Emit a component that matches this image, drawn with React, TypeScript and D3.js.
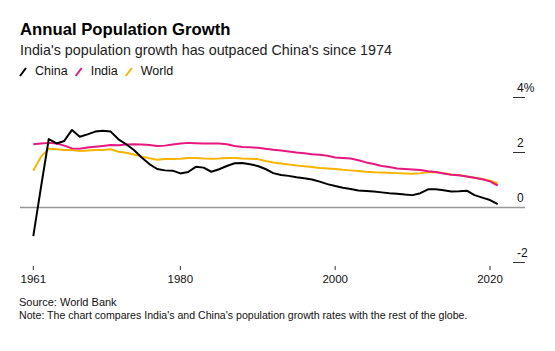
import React, { useEffect, useRef } from "react";
import * as d3 from "d3";

// annual population growth, %, 1961-2021
const years = d3.range(1961, 2022);

const china = [
  -1.04, 0.75, 2.49, 2.33, 2.42, 2.82, 2.57, 2.66, 2.76, 2.79,
  2.76, 2.48, 2.3, 2.09, 1.82, 1.58, 1.4, 1.35, 1.34, 1.24,
  1.29, 1.48, 1.45, 1.3, 1.39, 1.51, 1.61, 1.62, 1.57, 1.51,
  1.4, 1.25, 1.18, 1.15, 1.1, 1.06, 1.02, 0.94, 0.85, 0.78,
  0.72, 0.67, 0.62, 0.6, 0.58, 0.55, 0.52, 0.5, 0.47, 0.45,
  0.52, 0.66, 0.66, 0.63, 0.58, 0.59, 0.61, 0.45, 0.36, 0.27,
  0.12
];

const india = [
  2.3, 2.33, 2.35, 2.33, 2.25, 2.15, 2.14, 2.18, 2.21, 2.24,
  2.27, 2.26, 2.29, 2.3, 2.29, 2.27, 2.24, 2.25, 2.29, 2.33,
  2.35, 2.34, 2.33, 2.33, 2.33, 2.3, 2.24, 2.2, 2.19, 2.17,
  2.14, 2.1, 2.07, 2.04, 2.0, 1.97, 1.94, 1.92, 1.88, 1.82,
  1.8, 1.78, 1.72, 1.64, 1.58, 1.51, 1.47, 1.42, 1.4, 1.38,
  1.36, 1.32, 1.29, 1.24, 1.19, 1.17, 1.13, 1.08, 1.03, 0.95,
  0.8
];

const world = [
  1.34, 1.85, 2.14, 2.12, 2.09, 2.09, 2.05, 2.07, 2.09, 2.09,
  2.12, 2.03, 1.99, 1.93, 1.85, 1.79, 1.74, 1.76, 1.76, 1.77,
  1.8, 1.8, 1.78, 1.77, 1.78, 1.8, 1.8, 1.78, 1.77, 1.76,
  1.69, 1.64, 1.6, 1.56, 1.53, 1.5, 1.47, 1.44, 1.42, 1.4,
  1.37, 1.35, 1.33, 1.3, 1.28, 1.27, 1.26, 1.25, 1.24, 1.23,
  1.25, 1.28, 1.28, 1.25, 1.2, 1.17, 1.13, 1.08, 1.04, 0.97,
  0.88
];

const xTicks = [1961, 1980, 2000, 2020];
const yTicks = [4, 2, 0, -2];

const series = [
  { name: "World", values: world, color: "#f7b500" },
  { name: "India", values: india, color: "#e8177f" },
  { name: "China", values: china, color: "#000000" },
];
const legendOrder = ["China", "India", "World"];

const App = () => {
  const svgRef = useRef<SVGSVGElement>(null);

  useEffect(() => {
    const svg = d3.select(svgRef.current);
    svg.selectAll("*").remove();
    const font = "'Liberation Sans', Arial, sans-serif";

    const x = d3.scaleLinear().domain([1961, 2020]).range([33.3, 490]);
    const y = d3.scaleLinear().domain([-2, 4]).range([262.5, 97.5]);

    // title block
    svg.append("text").attr("x", 20).attr("y", 35)
      .attr("font-family", font).attr("font-size", 16.7).attr("font-weight", "bold")
      .attr("fill", "#000").text("Annual Population Growth");
    svg.append("text").attr("x", 20).attr("y", 55)
      .attr("font-family", font).attr("font-size", 14.3)
      .attr("fill", "#222").text("India's population growth has outpaced China's since 1974");

    // legend
    const legend = svg.append("g");
    let lx = 20;
    legendOrder.forEach((name) => {
      const s = series.find((d) => d.name === name)!;
      legend.append("line")
        .attr("x1", lx).attr("y1", 76).attr("x2", lx + 6).attr("y2", 68)
        .attr("stroke", s.color).attr("stroke-width", 2);
      const t = legend.append("text").attr("x", lx + 15).attr("y", 75)
        .attr("font-family", font).attr("font-size", 12.5)
        .attr("fill", "#111").text(name);
      lx += 15 + (t.node() as SVGTextElement).getComputedTextLength() + 8;
    });

    // y axis on the right
    const yAxis = svg.append("g");
    yTicks.forEach((v) => {
      yAxis.append("line")
        .attr("x1", 513).attr("x2", 525).attr("y1", y(v)).attr("y2", y(v))
        .attr("stroke", "#333").attr("stroke-width", 1);
      yAxis.append("text").attr("x", 517).attr("y", y(v) - 6)
        .attr("font-family", font).attr("font-size", 12)
        .attr("fill", "#111").text(v === 4 ? "4%" : String(v));
    });

    // zero line
    svg.append("line")
      .attr("x1", 20).attr("x2", 525).attr("y1", y(0)).attr("y2", y(0))
      .attr("stroke", "#999").attr("stroke-width", 1.5);

    // x axis
    const xAxis = svg.append("g");
    xTicks.forEach((v) => {
      xAxis.append("line")
        .attr("x1", x(v)).attr("x2", x(v)).attr("y1", 266).attr("y2", 270)
        .attr("stroke", "#333").attr("stroke-width", 1);
      xAxis.append("text").attr("x", x(v)).attr("y", 283)
        .attr("text-anchor", "middle")
        .attr("font-family", font).attr("font-size", 11.5)
        .attr("fill", "#111").text(String(v));
    });

    // lines
    const line = d3.line<number>()
      .x((d, i) => x(years[i]))
      .y((d) => y(d));

    series.forEach((s) => {
      svg.append("path")
        .datum(s.values)
        .attr("fill", "none")
        .attr("stroke", s.color)
        .attr("stroke-width", 2)
        .attr("stroke-linejoin", "round")
        .attr("d", line);
    });

    // footer
    svg.append("text").attr("x", 19).attr("y", 306)
      .attr("font-family", font).attr("font-size", 11)
      .attr("fill", "#111").text("Source: World Bank");
    svg.append("text").attr("x", 19).attr("y", 319)
      .attr("font-family", font).attr("font-size", 10.6)
      .attr("fill", "#111")
      .text("Note: The chart compares India's and China's population growth rates with the rest of the globe.");
  }, []);

  return (
    <svg ref={svgRef} width={555} height={351}
      style={{ position: "absolute", left: 0, top: 0, background: "#fff" }} />
  );
};

export default App;
